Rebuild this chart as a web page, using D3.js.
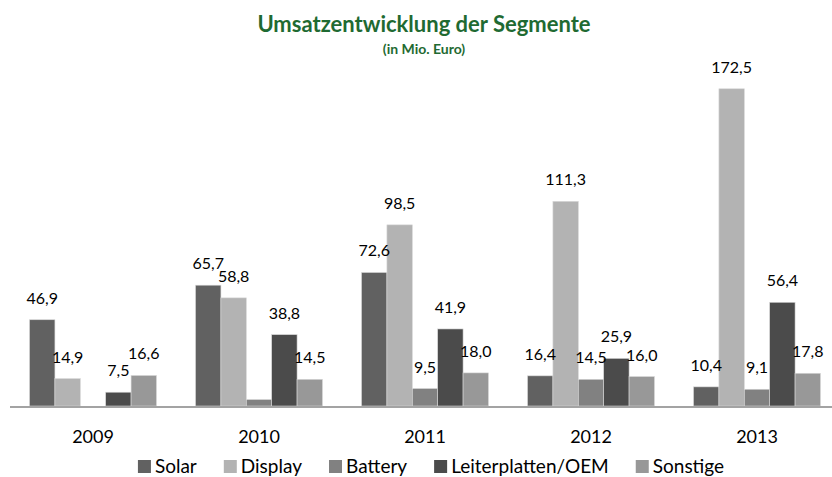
<!DOCTYPE html>
<html>
<head>
<meta charset="utf-8">
<script src="https://cdn.jsdelivr.net/npm/d3@7"></script>
<style>
  body { margin: 0; background: #fff; }
  svg { display: block; font-family: Lato, 'Open Sans', sans-serif; }
</style>
</head>
<body>
<div id="chart"></div>
<script>
const years = ['2009', '2010', '2011', '2012', '2013'];
const seriesNames = ['Solar', 'Display', 'Battery', 'Leiterplatten/OEM', 'Sonstige'];
const solar = [46.9, 65.7, 72.6, 16.4, 10.4];
const display = [14.9, 58.8, 98.5, 111.3, 172.5];
const battery = [null, 3.5, 9.5, 14.5, 9.1];
const leiterplatten = [7.5, 38.8, 41.9, 25.9, 56.4];
const sonstige = [16.6, 14.5, 18.0, 16.0, 17.8];

const render = () => {
  const width = 832;
  const height = 477;

  const svg = d3
    .select('#chart')
    .append('svg')
    .attr('width', width)
    .attr('height', height);

  const values = [solar, display, battery, leiterplatten, sonstige];
  const color = d3
    .scaleOrdinal()
    .domain(seriesNames)
    .range(['#616161', '#b3b3b3', '#818181', '#4b4b4b', '#989898']);

  const fmt = (v) => d3.format('.1f')(v).replace('.', ',');

  // scales
  const x0 = d3.scaleBand().domain(years).range([10, 840]).padding(0);
  const x1 = d3
    .scaleBand()
    .domain(seriesNames)
    .range([0, x0.bandwidth()])
    .paddingInner(0)
    .paddingOuter(0.77);
  const y = d3.scaleLinear().domain([0, 180]).range([406, 75]);

  // title
  svg
    .append('text')
    .attr('x', 424)
    .attr('y', 32)
    .attr('text-anchor', 'middle')
    .style('font-size', '22px')
    .style('font-weight', 'bold')
    .style('fill', '#1f6a32')
    .text('Umsatzentwicklung der Segmente');

  svg
    .append('text')
    .attr('x', 424)
    .attr('y', 54)
    .attr('text-anchor', 'middle')
    .style('font-size', '14px')
    .style('font-weight', 'bold')
    .style('fill', '#1f6a32')
    .text('(in Mio. Euro)');

  // bars
  const rows = [];
  years.forEach((yr, i) => {
    seriesNames.forEach((s, j) => {
      if (values[j][i] != null) rows.push({ year: yr, series: s, value: values[j][i] });
    });
  });

  svg
    .selectAll('.bar')
    .data(rows)
    .enter()
    .append('rect')
    .attr('class', 'bar')
    .attr('x', (d) => x0(d.year) + x1(d.series))
    .attr('y', (d) => y(d.value))
    .attr('width', x1.bandwidth())
    .attr('height', (d) => y(0) - y(d.value))
    .style('fill', (d) => color(d.series))
    .style('stroke', '#d8d8d8')
    .style('stroke-width', 0.6);

  // value labels (tiny battery 2010 bar has none in the original)
  svg
    .selectAll('.label')
    .data(rows.filter((d) => d.value >= 5))
    .enter()
    .append('text')
    .attr('class', 'label')
    .attr('x', (d) => x0(d.year) + x1(d.series) + x1.bandwidth() / 2)
    .attr('y', (d) => y(d.value) - 16)
    .attr('text-anchor', 'middle')
    .style('font-size', '16px')
    .style('fill', '#000')
    .text((d) => fmt(d.value));

  // x axis
  const xAxis = d3.axisBottom(x0).tickSize(0).tickPadding(23);
  const xAxisGroup = svg
    .append('g')
    .attr('transform', `translate(0, ${y(0) + 1})`)
    .call(xAxis);
  xAxisGroup.select('.domain').remove();
  xAxisGroup
    .selectAll('text')
    .style('font-family', 'Lato, sans-serif')
    .style('font-size', '18px')
    .style('fill', '#000');

  svg
    .append('line')
    .attr('x1', 10)
    .attr('x2', 832)
    .attr('y1', y(0) + 1)
    .attr('y2', y(0) + 1)
    .style('stroke', '#a3a3a3')
    .style('stroke-width', 2);

  // legend
  const legend = svg.append('g').attr('id', 'legend');
  const items = legend
    .selectAll('.legend-item')
    .data(seriesNames)
    .enter()
    .append('g')
    .attr('class', 'legend-item');

  items
    .append('rect')
    .attr('y', 460)
    .attr('width', 13)
    .attr('height', 13)
    .style('fill', color);

  items
    .append('text')
    .attr('x', 17)
    .attr('y', 473)
    .style('font-size', '19px')
    .style('fill', '#000')
    .text((d) => d);

  const gap = 27;
  let offset = 0;
  const positions = [];
  items.each(function () {
    positions.push(offset);
    const w = 17 + d3.select(this).select('text').node().getComputedTextLength();
    offset += w + gap;
  });
  const total = offset - gap;
  const start = 431 - total / 2;
  items.attr('transform', (d, i) => `translate(${start + positions[i]}, 0)`);
};

render();
</script>
</body>
</html>
